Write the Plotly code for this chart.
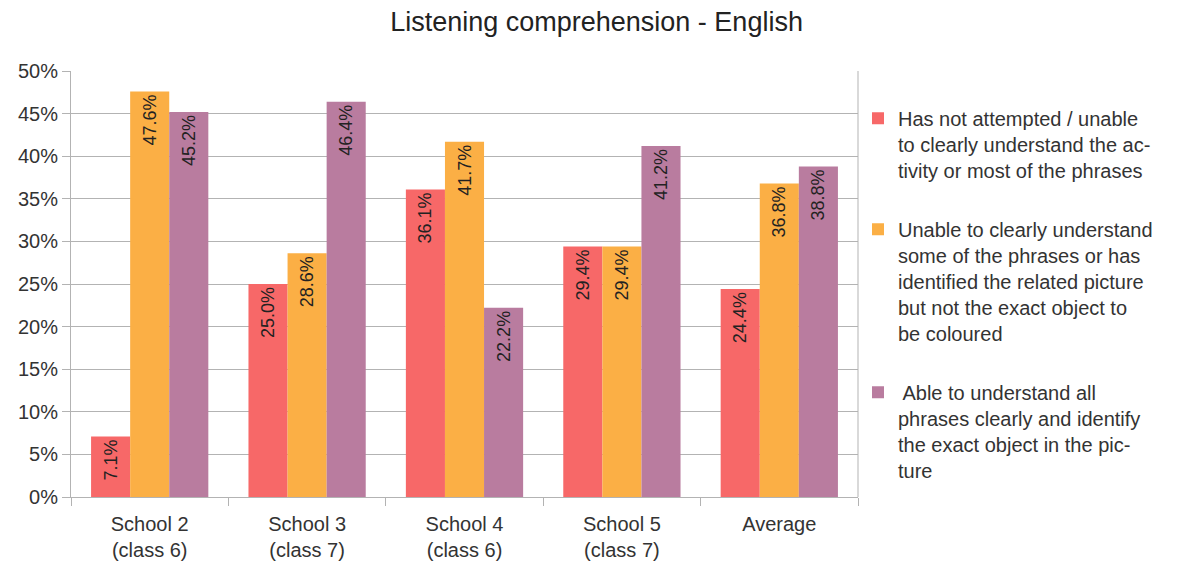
import plotly.graph_objects as go

categories = ["School 2<br>(class 6)", "School 3<br>(class 7)", "School 4<br>(class 6)",
              "School 5<br>(class 7)", "Average"]
not_attempted = [7.1, 25.0, 36.1, 29.4, 24.4]
partial = [47.6, 28.6, 41.7, 29.4, 36.8]
full = [45.2, 46.4, 22.2, 41.2, 38.8]

series_names = [
    "Has not attempted / unable<br>to clearly understand the ac-<br>tivity or most of the phrases",
    "Unable to clearly understand<br>some of the phrases or has<br>identified the related picture<br>but not the exact object to<br>be coloured",
    " Able to understand all<br>phrases clearly and identify<br>the exact object in the pic-<br>ture",
]
series_values = [not_attempted, partial, full]
colors = ["#F76868", "#FBAF45", "#B97C9F"]

FONT = "Liberation Sans, Arial"

fig = go.Figure()
for i, (name, vals, col) in enumerate(zip(series_names, series_values, colors)):
    fig.add_trace(go.Bar(
        x=categories, y=vals, name=name, marker_color=col, marker_line_width=0,
        legendgroup=f"g{i}",
        text=[f"{v:.1f}%" for v in vals], textposition="inside",
        insidetextanchor="end", textangle=-90,
        textfont=dict(family=FONT, size=18, color="#222"),
        constraintext="none",
    ))

fig.update_layout(
    width=1186, height=570,
    margin=dict(l=71, r=328, t=71, b=73),
    paper_bgcolor="white", plot_bgcolor="white",
    barmode="group", bargap=0.255, bargroupgap=0,
    title=dict(text="Listening comprehension - English", x=0.503, xanchor="center",
               y=0.963, yanchor="middle",
               font=dict(family=FONT, size=27, color="#222")),
    font=dict(family=FONT, size=20, color="#333"),
    uniformtext=dict(mode=False),
    legend=dict(x=1.0, xanchor="left", y=0.935, yanchor="top", valign="top",
                font=dict(size=20, color="#333"), tracegroupgap=30,
                itemsizing="constant", bgcolor="rgba(0,0,0,0)"),
    showlegend=True,
)
fig.update_yaxes(range=[0, 50], dtick=5, ticksuffix="%", showgrid=True,
                 gridcolor="#b3b3b3", gridwidth=1, showline=True, linecolor="#b3b3b3",
                 ticks="outside", ticklen=8, tickcolor="#b3b3b3", zeroline=False,
                 automargin=False, tickfont=dict(size=20, color="#333"))
fig.update_xaxes(showline=True, linecolor="#b3b3b3", ticks="outside", ticklen=8,
                 tickcolor="#b3b3b3", tickson="boundaries", showgrid=False,
                 mirror=False, ticklabelstandoff=9, automargin=False,
                 tickfont=dict(size=20, color="#333"))
# right border of plot area
fig.add_shape(type="line", xref="paper", yref="paper", x0=1, x1=1, y0=0, y1=1,
              line=dict(color="#b3b3b3", width=1))

fig.write_html("out.html")
